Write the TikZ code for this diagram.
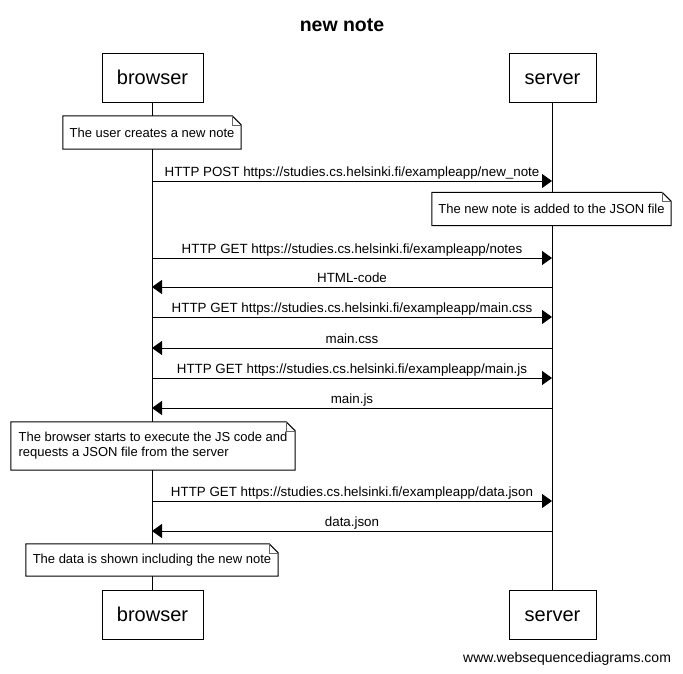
\documentclass[tikz,border=0pt]{standalone}
\usepackage{fontspec}
\setmainfont{Liberation Sans}
\usetikzlibrary{arrows.meta, positioning}
\tikzset{
	actor/.style={rectangle, draw=black, line width=1pt, fill=white, minimum height=49pt, inner sep=0pt, text height=14.5pt, text depth=0pt, font=\fontsize{20}{24}\selectfont},
	note/.style={rectangle, fill=white, inner xsep=6pt, inner ysep=0pt, align=left, font=\fontsize{13}{15}\selectfont},
	msg/.style={line width=1pt, -{Triangle[length=10pt,width=14pt]}},
	msglabel/.style={midway, anchor=base, yshift=5pt, inner sep=0pt, font=\fontsize{13.35}{15}\selectfont},
	lifeline/.style={line width=1pt}
}

\begin{document}
\begin{tikzpicture}[x=1pt, y=-1pt]
		\useasboundingbox (0,0) rectangle (683,673);
		
		% Title
		\node (title) [anchor=base, font=\bfseries\fontsize{19.5}{23}\selectfont] at (342,31) {new note};
		
		% Actors (top and bottom)
		\node (browser) [actor, minimum width=101pt] at (152.5,77.5) {browser};
		\node (server) [actor, minimum width=87pt] at (552.5,77.5) {server};
		\node (browserB) [actor, minimum width=101pt] at (152.5,614.5) {browser};
		\node (serverB) [actor, minimum width=87pt] at (552.5,614.5) {server};
		
		% Lifelines
		\draw [lifeline] (browser) -- (browserB);
		\draw [lifeline] (server) -- (serverB);
		
		% Notes
		\node (noteA) [note, minimum width=178pt, minimum height=33pt] at (152,132.5) {The user creates a new note};
		\node (noteB) [note, minimum width=239pt, minimum height=33pt] at (551.5,209) {The new note is added to the JSON file};
		\node (noteC) [note, minimum width=284pt, minimum height=48pt] at (153,446) {The browser starts to execute the JS code and\\requests a JSON file from the server};
		\node (noteD) [note, minimum width=252pt, minimum height=32pt] at (152,560) {The data is shown including the new note};
		\foreach \n in {noteA, noteB, noteC, noteD} {
			\draw [line width=1pt] (\n.north west) -- ([xshift=-9pt]\n.north east) -- ([yshift=-9pt]\n.north east) -- (\n.south east) -- (\n.south west) -- cycle;
			\draw [black!60] ([xshift=-9pt]\n.north east) |- ([yshift=-9pt]\n.north east);
		}
		
		% Message end points
		\coordinate (postB) at (152,181);  \coordinate (postS) at (552,181);
		\coordinate (notesB) at (152,258); \coordinate (notesS) at (552,258);
		\coordinate (htmlB) at (152,287);  \coordinate (htmlS) at (552,287);
		\coordinate (cssB) at (152,317);   \coordinate (cssS) at (552,317);
		\coordinate (cssrB) at (152,348);  \coordinate (cssrS) at (552,348);
		\coordinate (jsB) at (152,378);    \coordinate (jsS) at (552,378);
		\coordinate (jsrB) at (152,408);   \coordinate (jsrS) at (552,408);
		\coordinate (dataB) at (152,501);  \coordinate (dataS) at (552,501);
		\coordinate (datarB) at (152,531); \coordinate (datarS) at (552,531);
		
		% Messages
		\draw [msg] (postB) -- node[msglabel] {HTTP POST https://studies.cs.helsinki.fi/exampleapp/new\_note} (postS);
		\draw [msg] (notesB) -- node[msglabel] {HTTP GET https://studies.cs.helsinki.fi/exampleapp/notes} (notesS);
		\draw [msg] (htmlS) -- node[msglabel] {HTML-code} (htmlB);
		\draw [msg] (cssB) -- node[msglabel] {HTTP GET https://studies.cs.helsinki.fi/exampleapp/main.css} (cssS);
		\draw [msg] (cssrS) -- node[msglabel] {main.css} (cssrB);
		\draw [msg] (jsB) -- node[msglabel] {HTTP GET https://studies.cs.helsinki.fi/exampleapp/main.js} (jsS);
		\draw [msg] (jsrS) -- node[msglabel] {main.js} (jsrB);
		\draw [msg] (dataB) -- node[msglabel] {HTTP GET https://studies.cs.helsinki.fi/exampleapp/data.json} (dataS);
		\draw [msg] (datarS) -- node[msglabel] {data.json} (datarB);
		
		% Footer
		\node (footer) [anchor=base east, font=\fontsize{14}{16}\selectfont] at (674.5,662) {www.websequencediagrams.com};
		
	\end{tikzpicture}
\end{document}
